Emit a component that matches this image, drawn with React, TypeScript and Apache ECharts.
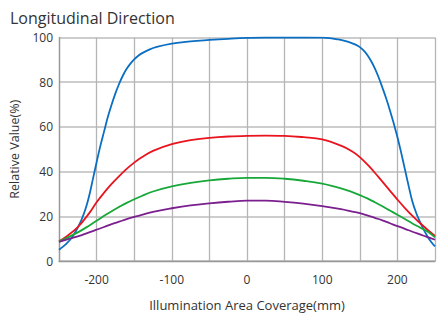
import React, { useEffect, useRef } from "react";
import * as echarts from "echarts";

const bluePositions = [-250, -245, -240, -235, -230, -225, -220, -215, -210, -205, -200, -195, -190, -185, -180, -175, -170, -165, -160, -155, -150, -145, -140, -130, -120, -100, -75, -50, -25, 0, 25, 50, 75, 100, 110, 120, 130, 140, 145, 150, 155, 160, 165, 170, 175, 180, 185, 190, 195, 200, 205, 210, 215, 220, 225, 230, 235, 240, 245, 250];
const blueValues = [5, 6.3, 7.8, 9.6, 12, 15, 18.5, 23, 29, 36.5, 44.2, 51.5, 58, 64.5, 70, 75, 79.3, 83, 86, 88.3, 90.2, 91.7, 92.9, 94.6, 95.8, 97.3, 98.3, 98.9, 99.4, 99.8, 100, 100, 100, 99.9, 99.7, 99.2, 98.5, 97.4, 96.7, 95.7, 94.2, 92.2, 89.5, 86.2, 82.2, 77.6, 72.8, 67.5, 61.7, 55.5, 48.5, 41, 33.5, 26.5, 21.5, 17.5, 14, 11, 8.5, 6.5];

const positions = [-250, -240, -225, -210, -200, -190, -180, -170, -160, -150, -140, -125, -100, -75, -50, -25, 0, 25, 50, 75, 100, 125, 140, 150, 160, 170, 180, 190, 200, 210, 220, 230, 240, 250];
const redValues = [8.8, 11, 15.2, 21.3, 26.3, 30.6, 34.5, 38, 41.2, 44, 46.4, 49.3, 52.3, 54.1, 55.1, 55.7, 56, 56.1, 56, 55.4, 54.4, 51.6, 49, 46.5, 43.2, 39.5, 35.5, 31.5, 27.5, 23.7, 20.2, 17, 14, 11.2];
const greenValues = [8.8, 10.3, 12.8, 15.8, 18, 20.2, 22.3, 24.2, 26, 27.6, 29.1, 31.1, 33.4, 35, 36.1, 36.8, 37.2, 37.2, 36.8, 35.9, 34.6, 32.5, 30.8, 29.5, 28, 26.3, 24.5, 22.6, 20.7, 18.8, 16.8, 15, 13.2, 10.6];
const purpleValues = [8.5, 9.6, 11, 12.8, 14, 15.2, 16.5, 17.6, 18.7, 19.7, 20.6, 22, 23.6, 24.9, 25.8, 26.5, 27, 27, 26.5, 25.7, 24.6, 23.2, 22.1, 21.4, 20.4, 19.3, 18.2, 16.9, 15.6, 14.4, 13.1, 11.9, 10.7, 9.5];

const seriesDefs = [
  { name: "A", xs: bluePositions, values: blueValues, color: "#0a6fc2" },
  { name: "B", xs: positions, values: redValues, color: "#e8141e" },
  { name: "C", xs: positions, values: greenValues, color: "#18a83a" },
  { name: "D", xs: positions, values: purpleValues, color: "#7b1f8e" },
];

const FONT = "'Open Sans', 'Noto Sans', sans-serif";

export default function App() {
  const ref = useRef<HTMLDivElement>(null);
  useEffect(() => {
    if (!ref.current) return;
    const chart = echarts.init(ref.current, null, { renderer: "svg" });
    chart.setOption({
      animation: false,
      backgroundColor: "#ffffff",
      title: {
        text: "Longitudinal Direction",
        left: 5,
        top: 5,
        textStyle: { fontFamily: FONT, fontSize: 16, fontWeight: "normal", color: "#333" },
      },
      grid: { left: 58.5, right: 0, top: 37.5, bottom: 50.5, containLabel: false },
      xAxis: {
        type: "value",
        min: -250,
        max: 250,
        interval: 50,
        name: "Illumination Area Coverage(mm)",
        nameLocation: "middle",
        nameGap: 37,
        nameTextStyle: { fontFamily: FONT, fontSize: 13, color: "#333" },
        axisLine: { show: true, onZero: false, lineStyle: { color: "#999", width: 1.3 } },
        axisTick: { show: false },
        axisLabel: {
          fontFamily: FONT,
          fontSize: 12,
          color: "#333",
          margin: 12,
          formatter: (v: number) => (v % 100 === 0 ? String(v) : ""),
        },
        splitLine: { show: true, lineStyle: { color: "#b5b5b5", width: 1.3 } },
      },
      yAxis: {
        type: "value",
        min: 0,
        max: 100,
        interval: 20,
        name: "Relative Value(%)",
        nameLocation: "middle",
        nameGap: 38,
        nameTextStyle: { fontFamily: FONT, fontSize: 12.5, color: "#333" },
        axisLine: { show: true, onZero: false, lineStyle: { color: "#999", width: 1.3 } },
        axisTick: { show: false },
        axisLabel: { fontFamily: FONT, fontSize: 12, color: "#333", margin: 6 },
        splitLine: { show: true, lineStyle: { color: "#bdbdbd", width: 1.6 } },
      },
      series: seriesDefs.map((s) => ({
        name: s.name,
        type: "line",
        smooth: 0.4,
        symbol: "none",
        clip: true,
        lineStyle: { color: s.color, width: 1.8 },
        data: s.xs.map((x, i) => [x, s.values[i]]),
      })),
    });
    return () => chart.dispose();
  }, []);
  return <div ref={ref} style={{ width: 438, height: 316, position: "absolute", left: 0, top: 0 }} />;
}
